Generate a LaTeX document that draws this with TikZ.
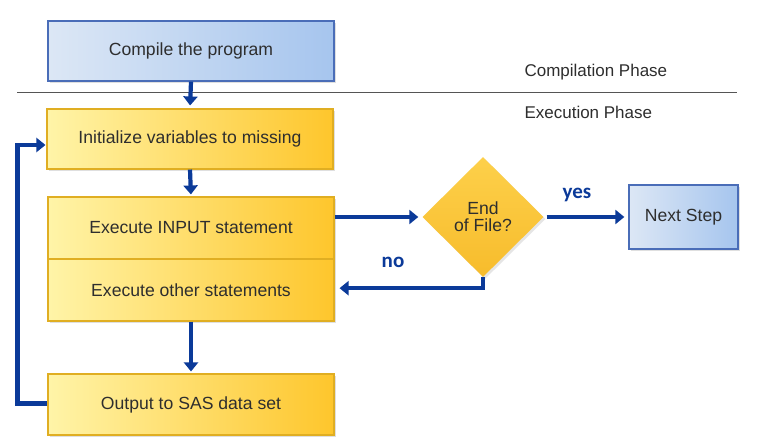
\documentclass[tikz,border=0pt]{standalone}
\usepackage{fontspec}
\setmainfont{Liberation Sans}
\newfontfamily\labfont{Carlito}
\usetikzlibrary{shapes.geometric,arrows.meta,shadows,calc}
\definecolor{arrowblue}{HTML}{0B3A99}
\definecolor{txtgray}{HTML}{2E2E2E}
\definecolor{bluelight}{HTML}{DCE7F5}
\definecolor{bluedark}{HTML}{A6C5EE}
\definecolor{blueborder}{HTML}{4A6DB8}
\definecolor{yellight}{HTML}{FFF4A8}
\definecolor{yeldark}{HTML}{FEC62C}
\definecolor{yelborder}{HTML}{E0AE22}
\definecolor{diatop}{HTML}{FDD04A}
\definecolor{diabot}{HTML}{F7BC2C}
\definecolor{phaseline}{HTML}{555555}
\tikzset{
  boxtext/.style={font=\fontsize{17.6}{20}\selectfont, text=txtgray},
  bluebox/.style={boxtext, rectangle, draw=blueborder, line width=1.3pt,
    left color=bluelight, right color=bluedark,
    drop shadow={opacity=0.25, shadow xshift=2pt, shadow yshift=-2pt}},
  yelbox/.style={boxtext, rectangle, draw=yelborder, line width=1.1pt,
    left color=yellight, right color=yeldark, minimum width=286pt,
    drop shadow={opacity=0.25, shadow xshift=2pt, shadow yshift=-2pt}},
  decision/.style={boxtext, diamond, aspect=1, inner sep=0pt,
    minimum width=121pt, minimum height=120pt, align=center,
    top color=diatop, bottom color=diabot, draw=none,
    drop shadow={opacity=0.2, shadow xshift=2pt, shadow yshift=-2pt}},
  flow/.style={draw=arrowblue, line width=4.2pt,
    -{Triangle[length=9pt,width=14pt]}},
  answer/.style={font=\labfont\bfseries\fontsize{21}{24}\selectfont, text=arrowblue},
  phase/.style={font=\fontsize{17}{20}\selectfont, text=txtgray, anchor=west}
}
\begin{document}
\begin{tikzpicture}[x=1pt,y=-1pt]
\useasboundingbox (0,0) rectangle (760,446);
\fill[white] (0,0) rectangle (760,446);

% phase separator
\coordinate (sepL) at (17,92.5);
\coordinate (sepR) at (737,92.5);
\draw[phaseline, line width=1.3pt] (sepL) -- (sepR);
\node[phase] (comp) at (521,72) {Compilation Phase};
\node[phase] (exph) at (521,112) {Execution Phase};

% boxes
\node[bluebox, minimum width=286pt, minimum height=60pt] (compile) at (191,51) {Compile the program};
\node[yelbox, minimum height=60pt] (init) at (190,139) {Initialize variables to missing};
\node[yelbox, minimum height=62pt] (exec) at (191,228) {Execute INPUT statement};
\node[yelbox, minimum height=62pt] (other) at (191,290) {Execute other statements};
\node[yelbox, minimum height=61pt] (output) at (191,404.5) {Output to SAS data set};
\node[decision] (dia) at (483,217) {End\\[-3pt]of File?};
\node[bluebox, minimum width=109pt, minimum height=64pt] (next) at (683.5,217) {Next Step};

% labels
\node[answer] (yes) at (577,195) {yes};
\node[answer] (no) at (393,262) {no};

% connectors
\draw[flow, shorten >=3pt] (compile.south) -- (init.north);
\draw[flow, shorten >=2pt] (init.south) -- (exec.north);
\draw[flow, shorten >=2pt] (other.south) -- (output.north);
\draw[flow, shorten >=4pt] (exec.east |- dia.west) -- (dia.west);
\coordinate (yesstart) at ($(dia.east)+(3,0)$);
\draw[flow, shorten >=4pt] (yesstart) -- (next.west);
\coordinate (nocorner) at ($(dia.south)+(0,11)$);
\draw[flow, shorten >=5pt] (dia.south) -- (nocorner) -- (other.east |- nocorner);
\coordinate (loopB) at ($(output.west)+(-30,-1)$);
\coordinate (loopT) at ($(init.west)+(-29,6)$);
\draw[flow, shorten >=1pt] (output.west |- loopB) -- (loopB) -- (loopT) -- ($(init.west)+(0,6)$);
\end{tikzpicture}
\end{document}
